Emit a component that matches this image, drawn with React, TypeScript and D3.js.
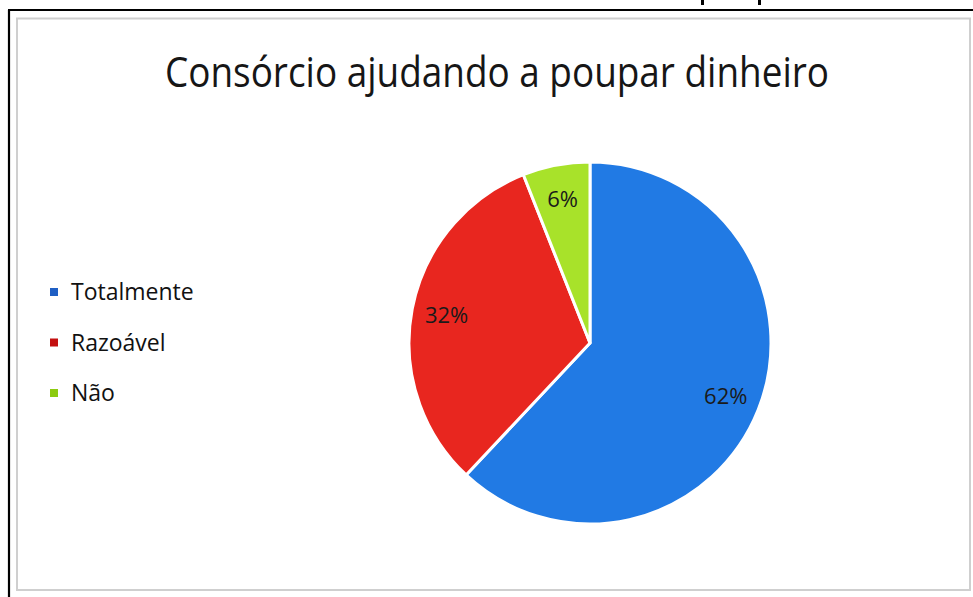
import React from "react";
import * as d3 from "d3";

const title = "Consórcio ajudando a poupar dinheiro";
const categories = ["Totalmente", "Razoável", "Não"];
const values = [62, 32, 6];
const sliceColors = ["#217AE4", "#E8261F", "#A8E22A"];
const legendColors = ["#1F5FC4", "#C41010", "#8CCB10"];

const W = 973;
const H = 597;
const cx = 590;
const cy = 343;
const R = 181;

export default function App() {
  const pie = d3.pie<number>().sort(null).value((d) => d)(values);
  const arc = d3.arc<d3.PieArcDatum<number>>().innerRadius(0).outerRadius(R);
  const labelArc = d3
    .arc<d3.PieArcDatum<number>>()
    .innerRadius(146)
    .outerRadius(146);
  const legendY = d3
    .scalePoint<string>()
    .domain(categories)
    .range([292, 393]);

  return (
    <svg
      width={W}
      height={H}
      style={{ position: "absolute", left: 0, top: 0, display: "block" }}
      fontFamily="'Open Sans', 'Noto Sans', sans-serif"
    >
      <rect x={0} y={0} width={W} height={H} fill="#fff" />
      {/* fragments of text above */}
      <rect x={701} y={0} width={3} height={5} fill="#000" />
      <rect x={758} y={0} width={3} height={5} fill="#000" />
      {/* black outer lines */}
      <line x1={8} y1={10} x2={W} y2={10} stroke="#000" strokeWidth={2.2} />
      <line x1={9} y1={10} x2={9} y2={H} stroke="#000" strokeWidth={2.2} />
      {/* gray chart frame */}
      <rect
        x={17}
        y={18.5}
        width={953}
        height={571.5}
        fill="#fff"
        stroke="#cfcfcf"
        strokeWidth={2}
      />
      <text
        x={497}
        y={87}
        textAnchor="middle"
        fontSize={42}
        fontWeight={400}
        fill="#161616"
        textLength={664}
        lengthAdjust="spacingAndGlyphs"
      >
        {title}
      </text>
      <g transform={`translate(${cx},${cy})`}>
        {pie.map((d, i) => (
          <path
            key={categories[i]}
            d={arc(d) || ""}
            fill={sliceColors[i]}
            stroke="#fff"
            strokeWidth={3}
            strokeLinejoin="round"
          />
        ))}
        {pie.map((d, i) => {
          const [lx, ly] = labelArc.centroid(d);
          return (
            <text
              key={"l" + i}
              x={lx}
              y={ly}
              dy="0.35em"
              textAnchor="middle"
              fontSize={22}
              fill="#1a1a1a"
            >
              {values[i]}%
            </text>
          );
        })}
      </g>
      {categories.map((c, i) => {
        const y = legendY(c) as number;
        return (
          <g key={c}>
            <rect
              x={50}
              y={y - 4}
              width={8}
              height={8}
              fill={legendColors[i]}
            />
            <text
              x={71}
              y={y}
              dy="0.35em"
              fontSize={23}
              fontWeight={500}
              fill="#111"
            >
              {c}
            </text>
          </g>
        );
      })}
    </svg>
  );
}
